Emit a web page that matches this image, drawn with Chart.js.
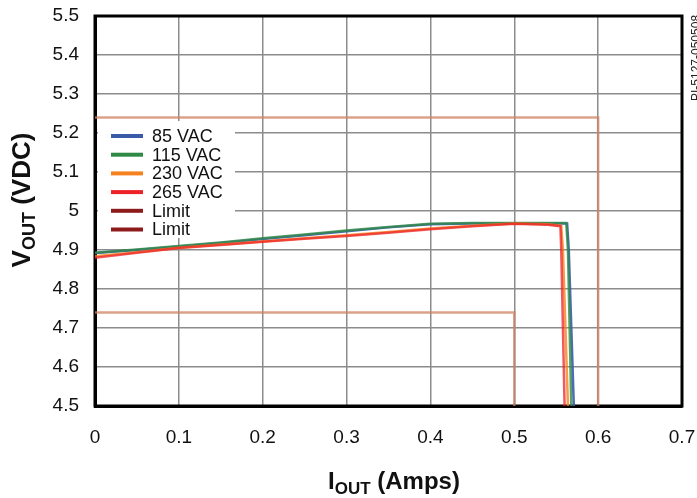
<!DOCTYPE html>
<html>
<head>
<meta charset="utf-8">
<script src="https://cdn.jsdelivr.net/npm/chart.js@4/dist/chart.umd.min.js"></script>
<style>
  html, body { margin: 0; padding: 0; background: #fff; }
  #wrap { width: 697px; height: 498px; position: relative; }
</style>
</head>
<body>
<div id="wrap"><canvas id="chart"></canvas></div>
<script>
// ── Dados ────────────────────────────────────────────────────────────────────

const X_TICKS = [0, 0.1, 0.2, 0.3, 0.4, 0.5, 0.6, 0.7];
const Y_TICKS = [4.5, 4.6, 4.7, 4.8, 4.9, 5, 5.1, 5.2, 5.3, 5.4, 5.5];

// 85 VAC
const I_85  = [0, 0.05, 0.1, 0.15, 0.2, 0.25, 0.3, 0.35, 0.4, 0.45, 0.5, 0.563, 0.565, 0.571];
const V_85  = [4.892, 4.900, 4.909, 4.918, 4.928, 4.938, 4.948, 4.958, 4.966, 4.968, 4.968, 4.968, 4.9, 4.5];
// 115 VAC
const I_115 = [0, 0.05, 0.1, 0.15, 0.2, 0.25, 0.3, 0.35, 0.4, 0.45, 0.5, 0.562, 0.564, 0.568];
const V_115 = [4.893, 4.901, 4.910, 4.919, 4.930, 4.940, 4.950, 4.959, 4.967, 4.969, 4.969, 4.969, 4.9, 4.5];
// 230 VAC
const I_230 = [0, 0.05, 0.1, 0.15, 0.2, 0.25, 0.3, 0.35, 0.4, 0.45, 0.5, 0.54, 0.556, 0.558, 0.564];
const V_230 = [4.884, 4.894, 4.906, 4.914, 4.922, 4.930, 4.938, 4.946, 4.955, 4.962, 4.968, 4.966, 4.962, 4.9, 4.5];
// 265 VAC
const I_265 = [0, 0.05, 0.1, 0.15, 0.2, 0.25, 0.3, 0.35, 0.4, 0.45, 0.5, 0.54, 0.555, 0.556, 0.56];
const V_265 = [4.880, 4.893, 4.905, 4.913, 4.921, 4.929, 4.936, 4.944, 4.953, 4.961, 4.967, 4.965, 4.961, 4.9, 4.5];
// Limites
const I_LIM_HI = [0, 0.6, 0.6];
const V_LIM_HI = [5.24, 5.24, 4.5];
const I_LIM_LO = [0, 0.5, 0.5];
const V_LIM_LO = [4.74, 4.74, 4.5];

const LABELS = ['85 VAC', '115 VAC', '230 VAC', '265 VAC', 'Limit', 'Limit'];
const LEGEND_COLORS = ['#3a5ca8', '#2f8a45', '#f5821f', '#ed2226', '#8e1b1b', '#8e1b1b'];

// ── Chart ────────────────────────────────────────────────────────────────────

const FONT = "'Liberation Sans', Arial, Helvetica, sans-serif";

function pts(xs, ys) {
    return xs.map((x, i) => ({ x, y: ys[i] }));
}

function makeDataset(label, xs, ys, color, order, width) {
    return {
        label,
        data: pts(xs, ys),
        showLine: true,
        borderColor: color,
        borderWidth: width,
        pointRadius: 0,
        tension: 0,
        order,
    };
}

const frameAndText = {
    id: 'frameAndText',
    beforeDatasetsDraw(chart) {
        const { ctx, chartArea: a } = chart;
        ctx.save();
        ctx.strokeStyle = '#000';
        ctx.lineWidth = 3;
        ctx.strokeRect(a.left, a.top, a.right - a.left, a.bottom - a.top);
        ctx.restore();
    },
    afterDraw(chart) {
        const { ctx, chartArea: a } = chart;
        ctx.save();

        // legenda
        ctx.fillStyle = '#fff';
        ctx.fillRect(a.left + 3, 121, 137, 117);
        ctx.font = `18px ${FONT}`;
        ctx.textBaseline = 'middle';
        LABELS.forEach((lab, i) => {
            const y = 136 + i * 18.7;
            ctx.strokeStyle = LEGEND_COLORS[i];
            ctx.lineWidth = 4;
            ctx.beginPath();
            ctx.moveTo(111, y);
            ctx.lineTo(143, y);
            ctx.stroke();
            ctx.fillStyle = '#111';
            ctx.fillText(lab, 152, y + 1);
        });

        ctx.fillStyle = '#111';
        ctx.textBaseline = 'alphabetic';
        const drawSub = (main, sub, rest, big, small) => {
            ctx.font = `bold ${big}px ${FONT}`;
            const w1 = ctx.measureText(main).width;
            const w3 = ctx.measureText(rest).width;
            ctx.font = `bold ${small}px ${FONT}`;
            const w2 = ctx.measureText(sub).width;
            const total = w1 + w2 + w3;
            let x = -total / 2;
            ctx.font = `bold ${big}px ${FONT}`;
            ctx.fillText(main, x, 0);
            x += w1;
            ctx.font = `bold ${small}px ${FONT}`;
            ctx.fillText(sub, x, 5);
            x += w2;
            ctx.font = `bold ${big}px ${FONT}`;
            ctx.fillText(rest, x, 0);
        };

        // título eixo X: I_OUT (Amps)
        ctx.save();
        ctx.translate(394, 489);
        drawSub('I', 'OUT', ' (Amps)', 24, 17);
        ctx.restore();

        // título eixo Y: V_OUT (VDC)
        ctx.save();
        ctx.translate(30, 200);
        ctx.rotate(-Math.PI / 2);
        drawSub('V', 'OUT', ' (VDC)', 26, 18);
        ctx.restore();

        // código lateral (cortado na borda)
        ctx.save();
        ctx.translate(691, 101);
        ctx.rotate(-Math.PI / 2);
        ctx.font = `12px ${FONT}`;
        ctx.textBaseline = 'top';
        ctx.textAlign = 'left';
        ctx.fillStyle = '#222';
        ctx.fillText('PI-5127-050508', 0, 0);
        ctx.restore();

        ctx.restore();
    },
};

const fmt = (v) => String(Number(v.toFixed(1)));

new Chart(document.getElementById('chart'), {
    type: 'scatter',
    data: {
        datasets: [
            makeDataset(LABELS[0], I_85, V_85, 'rgba(58,92,168,0.9)', 3, 2.5),
            makeDataset(LABELS[1], I_115, V_115, 'rgba(47,138,69,0.8)', 2, 2.5),
            makeDataset(LABELS[2], I_230, V_230, 'rgba(245,130,31,0.8)', 1, 2.5),
            makeDataset(LABELS[3], I_265, V_265, 'rgba(237,34,38,0.75)', 0, 2.5),
            makeDataset(LABELS[4], I_LIM_HI, V_LIM_HI, 'rgba(205,130,100,0.75)', 4, 2.5),
            makeDataset(LABELS[5], I_LIM_LO, V_LIM_LO, 'rgba(205,130,100,0.75)', 5, 2.5),
        ],
    },
    options: {
        responsive: true,
        maintainAspectRatio: false,
        animation: false,
        layout: { padding: { top: 16, right: 15, left: 0, bottom: 0 } },
        plugins: {
            legend: { display: false },
            tooltip: { enabled: false },
        },
        scales: {
            x: {
                type: 'linear',
                min: 0,
                max: 0.7,
                afterBuildTicks: (s) => { s.ticks = X_TICKS.map(v => ({ value: v })); },
                afterFit: (s) => { s.height = 92; s.paddingLeft = 0; s.paddingRight = 0; },
                ticks: {
                    callback: fmt,
                    color: '#111',
                    font: { family: FONT, size: 19 },
                    padding: 20,
                    maxRotation: 0,
                },
                grid: { color: '#8c8c8c', lineWidth: 1.5, drawTicks: false },
                border: { color: '#000', width: 3 },
            },
            y: {
                type: 'linear',
                min: 4.5,
                max: 5.5,
                afterBuildTicks: (s) => { s.ticks = Y_TICKS.map(v => ({ value: v })); },
                afterFit: (s) => { s.width = 95; s.paddingTop = 0; s.paddingBottom = 0; },
                ticks: {
                    callback: fmt,
                    color: '#111',
                    font: { family: FONT, size: 19 },
                    padding: 16,
                },
                grid: { color: '#8c8c8c', lineWidth: 1.5, drawTicks: false },
                border: { color: '#000', width: 3 },
            },
        },
    },
    plugins: [frameAndText],
});
</script>
</body>
</html>
